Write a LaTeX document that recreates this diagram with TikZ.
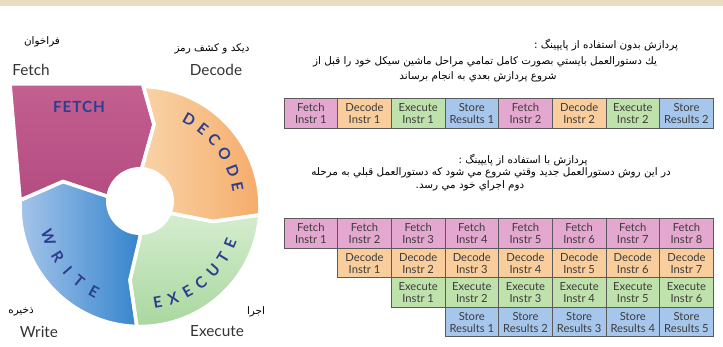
\documentclass[tikz,border=0pt]{standalone}
\usepackage{fontspec}
\setmainfont{Lato}
\newfontfamily\arabicfont[Script=Arabic]{DejaVu Sans}
\TeXXeTstate=1
\usetikzlibrary{decorations.text}
\definecolor{band}{HTML}{EBDCC0}
\definecolor{fetchc}{HTML}{E4A7CF}
\definecolor{decc}{HTML}{F9CD9C}
\definecolor{exc}{HTML}{BFE1AC}
\definecolor{stc}{HTML}{A7C6EC}
\definecolor{cellborder}{HTML}{5A5A5A}
\definecolor{celltext}{HTML}{3C3C3C}
\definecolor{cyc}{HTML}{2D3E8E}
\definecolor{labeltext}{HTML}{333333}
\definecolor{fA}{HTML}{C45F92}
\definecolor{fB}{HTML}{E2ACCD}
\definecolor{fC}{HTML}{B34B7F}
\definecolor{dA}{HTML}{F9D4A8}
\definecolor{dB}{HTML}{F5AC6A}
\definecolor{eA}{HTML}{D8EED2}
\definecolor{eB}{HTML}{A8D79E}
\definecolor{wA}{HTML}{A5C5EA}
\definecolor{wB}{HTML}{3584CD}
\newcommand{\cyclefont}{\fontsize{11.5}{13}\selectfont\bfseries}
\begin{document}
\begin{tikzpicture}[x=0.75pt,y=0.75pt,
  cell/.style={draw=cellborder, line width=0.6pt, minimum width=40.2pt, minimum height=22.1pt,
    inner sep=0pt, align=center, font=\fontsize{8.4}{9}\selectfont, text=celltext},
  fcell/.style={cell, fill=fetchc},
  dcell/.style={cell, fill=decc},
  ecell/.style={cell, fill=exc},
  scell/.style={cell, fill=stc},
  lab/.style={font=\fontsize{11.5}{13}\selectfont, text=labeltext, inner sep=0pt},
  fa/.style={font=\arabicfont\fontsize{7.8}{9}\selectfont, text=black, inner sep=0pt},
  gap/.style={draw=white, line width=2.6pt, line join=round}
]
\useasboundingbox (0,0) rectangle (723,346);
\fill[band] (0,340) rectangle (723,346);

% ---- cycle ----
\begin{scope}[shift={(140,139.5)}]
  \def\fetchpath{(-130,122.5) -- (3,122.5) -- (14,82) -- (2,39) -- (0,0) -- (-32,10) -- (-77,25) -- (177:120) -- cycle}
  \def\decodepath{(88.5:120) arc[start angle=88.5, end angle=-4, radius=120] -- (73,-15) -- (32,-7) -- (0,0) -- (2,39) -- (14,82) -- cycle}
  \def\execpath{(-4:120) arc[start angle=-4, end angle=-91.5, radius=120] -- (-10,-73.5) -- (0,-31) -- (0,0) -- (32,-7) -- (73,-15) -- cycle}
  \def\writepath{(177:120) -- (-77,25) -- (-32,10) -- (0,0) -- (0,-31) -- (-10,-73.5) -- (-91.5:120) arc[start angle=-91.5, end angle=-183, radius=120] -- cycle}
  \shade[top color=fA, middle color=fB, bottom color=fC] \fetchpath;
  \shade[left color=dA, right color=dB] \decodepath;
  \shade[top color=eA, bottom color=eB] \execpath;
  \shade[left color=wA, right color=wB] \writepath;
  \path[gap] \fetchpath;
  \path[gap] \decodepath;
  \path[gap] \execpath;
  \path[gap] \writepath;
  \fill[white] (0,5.5) circle[radius=34];
  \node[font=\cyclefont\addfontfeature{LetterSpace=6}, text=cyc, inner sep=0pt] (fetchtxt) at (-61,100) {FETCH};
  \path[decorate, decoration={text along path, text align={fit to path}, text color=cyc,
     text={|\cyclefont|DECODE}}] (64:94) arc[start angle=64, end angle=9, radius=94];
  \path[decorate, decoration={text along path, text align={fit to path}, text color=cyc,
     text={|\cyclefont|EXECUTE}}] (-82:103) arc[start angle=-82, end angle=-20, radius=103];
  \path[decorate, decoration={text along path, text align={fit to path}, text color=cyc,
     text={|\cyclefont|WRITE}}] (194:102) arc[start angle=194, end angle=244, radius=102];
\end{scope}

% ---- outer labels ----
\node[fa] (lfetchfa) at (42,304) {\beginR فراخوان\endR};
\node[lab] (lfetch) at (31,276) {Fetch};
\node[fa] (ldecodefa) at (212,297) {\beginR ديكد و كشف رمز\endR};
\node[lab] (ldecode) at (216,276) {Decode};
\node[fa] (lwritefa) at (21,34) {\beginR ذخيره\endR};
\node[lab] (lwrite) at (39,14) {Write};
\node[fa] (lexecfa) at (256,34) {\beginR اجرا\endR};
\node[lab] (lexec) at (217,15) {Execute};

% ---- text blocks ----
\node[fa] (p1a) at (606,301) {\beginR پردازش بدون استفاده از پايپينگ :\endR};
\node[fa] (p1b) at (485,284) {\beginR يك دستورالعمل بايستي بصورت كامل تمامي مراحل ماشين سيكل خود را قبل از\endR};
\node[fa] (p1c) at (478,269) {\beginR شروع پردازش بعدي به انجام برساند\endR};
\node[fa] (p2a) at (523,186) {\beginR پردازش با استفاده از پايپينگ :\endR};
\node[fa] (p2b) at (491,173) {\beginR در اين روش دستورالعمل جديد وقتي شروع مي شود كه دستورالعمل قبلي به مرحله\endR};
\node[fa] (p2c) at (470,160) {\beginR دوم اجراي خود مي رسد.\endR};

% ---- top table ----
\foreach \k/\sty/\txt in {1/fcell/{Fetch\\Instr 1}, 2/dcell/{Decode\\Instr 1}, 3/ecell/{Execute\\Instr 1}, 4/scell/{Store\\Results 1},
  5/fcell/{Fetch\\Instr 2}, 6/dcell/{Decode\\Instr 2}, 7/ecell/{Execute\\Instr 2}, 8/scell/{Store\\Results 2}}
  \node[\sty] (t\k) at ({284+53.66*(\k-0.5)},232.5) {\txt};

% ---- pipelined table ----
\foreach \k in {1,...,8}
  \node[fcell] (f\k) at ({284+53.66*(\k-0.5)},112.5) {Fetch\\Instr \k};
\foreach \k in {1,...,7}
  \node[dcell] (d\k) at ({284+53.66*(\k+0.5)},83) {Decode\\Instr \k};
\foreach \k in {1,...,6}
  \node[ecell] (e\k) at ({284+53.66*(\k+1.5)},53.5) {Execute\\Instr \k};
\foreach \k in {1,...,5}
  \node[scell] (s\k) at ({284+53.66*(\k+2.5)},24) {Store\\Results \k};
\end{tikzpicture}
\end{document}
